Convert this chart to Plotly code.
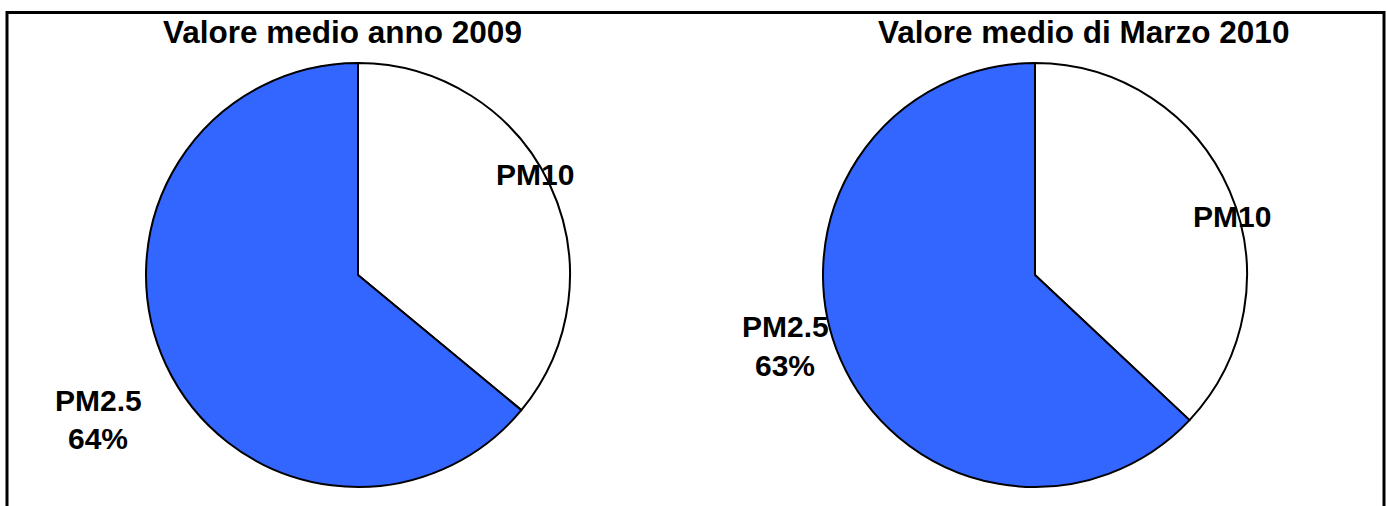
import plotly.graph_objects as go

categories = ["PM10", "PM2.5"]
values_2009 = [36, 64]
values_mar2010 = [37, 63]
titles = ["Valore medio anno 2009", "Valore medio di Marzo 2010"]
colors = ["#FFFFFF", "#3366FF"]

W, H = 1387, 506
FONT = "Liberation Sans, Arial, sans-serif"

def px(x):
    return x / W

def py(y):
    return 1 - y / H

fig = go.Figure()

pies = [
    (values_2009, (145, 571), (63, 487)),
    (values_mar2010, (822, 1248), (63, 487)),
]
for vals, (x0, x1), (y0, y1) in pies:
    fig.add_trace(go.Pie(
        labels=categories, values=vals, sort=False, direction="clockwise",
        rotation=0, textinfo="none", hoverinfo="label+percent",
        marker=dict(colors=colors, line=dict(color="black", width=2)),
        domain=dict(x=[px(x0), px(x1)], y=[py(y1), py(y0)]),
        showlegend=False,
    ))

def pct(vals, i):
    return round(vals[i] / sum(vals) * 100)

annots = []
def txt(t, x, y, size):
    annots.append(dict(text=f"<b>{t}</b>", x=px(x), y=py(y), xref="paper", yref="paper",
                       showarrow=False, font=dict(family=FONT, size=size, color="black"),
                       xanchor="center", yanchor="middle"))

# titles
for t, cx in zip(titles, [342, 1083]):
    txt(t, cx, 32, 31.5)
# labels
label_pos = [
    (values_2009, (535, 174), (98, 400), 38),
    (values_mar2010, (1232, 217), (785, 326), 39),
]
for vals, (ax, ay), (bx, by), gap in label_pos:
    txt(categories[0], ax, ay, 30)
    txt(categories[1], bx, by, 30)
    txt(f"{pct(vals, 1)}%", bx, by + gap, 30)

fig.update_layout(
    width=W, height=H, margin=dict(l=0, r=0, t=0, b=0),
    paper_bgcolor="white", plot_bgcolor="white",
    annotations=annots,
    shapes=[dict(type="rect", xref="paper", yref="paper",
                 x0=px(7), x1=px(1384), y0=py(560), y1=py(12.5),
                 line=dict(color="black", width=3), fillcolor="rgba(0,0,0,0)", layer="above")],
)

fig.write_html("out.html", config={"displayModeBar": False},
               post_script="document.body.style.margin='0';")
